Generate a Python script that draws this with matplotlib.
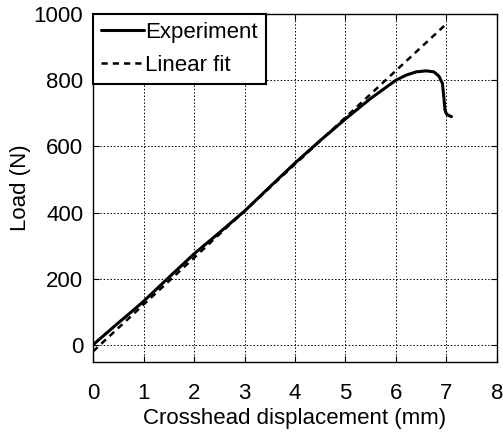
import numpy as np
import matplotlib.pyplot as plt

plt.rcParams['font.family'] = ['Liberation Sans', 'DejaVu Sans']

# Measured load-displacement curve
disp = [0.0, 0.25, 0.5, 0.75, 1.0, 1.5, 2.0, 2.5, 3.0, 3.5, 4.0, 4.5, 5.0,
        5.5, 6.0, 6.2, 6.4, 6.6, 6.75, 6.85, 6.92, 6.95, 6.97, 7.0, 7.05, 7.1]
load = [2, 35, 68, 100, 133, 205, 276, 340, 405, 478, 550, 618, 683,
        745, 800, 815, 825, 828, 825, 812, 790, 745, 710, 698, 693, 690]

# Linear fit of the elastic part
fit_x = [0.0, 7.0]
fit_y = [-18, 970]

fig = plt.figure(figsize=(5.03, 4.32), dpi=100)
ax = fig.add_axes([0.185, 0.162, 0.803, 0.806])

ax.plot(disp, load, color='black', linewidth=2.2, label='Experiment',
        solid_joinstyle='round', solid_capstyle='round')
ax.plot(fit_x, fit_y, color='black', linewidth=1.8, linestyle=(0, (2.5, 2.0)),
        label='Linear fit')

ax.set_xlim(0, 8)
ax.set_ylim(-50, 1000)
ax.set_xticks(np.arange(0, 9, 1))
ax.set_yticks(np.arange(0, 1001, 200))
ax.grid(True, color='black', linestyle=(0, (1.5, 2.0)), linewidth=0.7)
ax.tick_params(direction='in', top=True, right=True, labelsize=16, length=4)
ax.tick_params(axis='x', pad=15)
ax.tick_params(axis='y', pad=7)
for s in ax.spines.values():
    s.set_linewidth(1.0)

ax.set_xlabel('Crosshead displacement (mm)', fontsize=16, labelpad=3)
ax.set_ylabel('Load (N)', fontsize=16, labelpad=2)

leg = ax.legend(loc='upper left', borderaxespad=0, fancybox=False,
                framealpha=1, edgecolor='black', fontsize=16,
                handlelength=1.95, handletextpad=0.05, borderpad=0.35,
                labelspacing=0.55)
leg.get_frame().set_linewidth(1.5)

fig.savefig('out.png', dpi=100)
